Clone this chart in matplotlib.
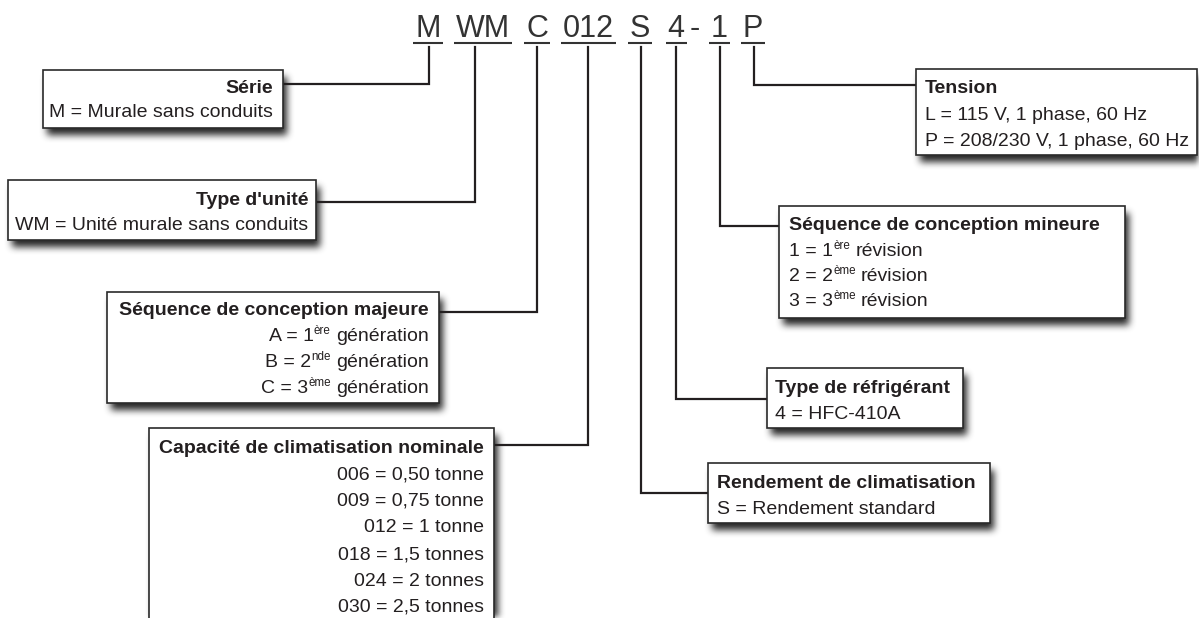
import numpy as np
import matplotlib.pyplot as plt
from matplotlib.patches import Rectangle

plt.rcParams['font.family'] = ['Liberation Sans', 'DejaVu Sans']

W, H = 1199, 618
TXT = '#231f20'
LINE = '#231f20'

# Model number segments (top line)
code_parts = ['M', 'WM', 'C', '012', 'S', '4', '-', '1', 'P']
code_underlined = [True, True, True, True, True, True, False, True, True]

# Box contents: title + lines, each line is a list of (text, is_superscript)
serie_title = 'Série'
serie_lines = [[('M = Murale sans conduits', False)]]

unite_title = "Type d'unité"
unite_lines = [[('WM = Unité murale sans conduits', False)]]

majeure_title = 'Séquence de conception majeure'
majeure_lines = [
    [('A = 1', False), ('ère', True), (' génération', False)],
    [('B = 2', False), ('nde', True), (' génération', False)],
    [('C = 3', False), ('ème', True), (' génération', False)],
]

capacite_title = 'Capacité de climatisation nominale'
capacite_lines = [[(s, False)] for s in [
    '006 = 0,50 tonne', '009 = 0,75 tonne', '012 = 1 tonne',
    '018 = 1,5 tonnes', '024 = 2 tonnes', '030 = 2,5 tonnes']]

tension_title = 'Tension'
tension_lines = [[('L = 115 V, 1 phase, 60 Hz', False)],
                 [('P = 208/230 V, 1 phase, 60 Hz', False)]]

mineure_title = 'Séquence de conception mineure'
mineure_lines = [
    [('1 = 1', False), ('ère', True), (' révision', False)],
    [('2 = 2', False), ('ème', True), (' révision', False)],
    [('3 = 3', False), ('ème', True), (' révision', False)],
]

refrig_title = 'Type de réfrigérant'
refrig_lines = [[('4 = HFC-410A', False)]]

rendement_title = 'Rendement de climatisation'
rendement_lines = [[('S = Rendement standard', False)]]

# ---- layout (pixel coordinates, y downwards) ----
code_cx = [428, 483, 537, 588, 640, 676, 695, 719, 753]
code_base = 37
code_ul_y = 43

# (title, lines, box rect, text x, align, first baseline, line step,
#  connector x under the code, connector y, side of the box)
boxes = [
    (serie_title, serie_lines, (43, 70, 283, 128), 273, 'right', 93, 24, 429, 84, 'r'),
    (unite_title, unite_lines, (8, 180, 316, 240), 308, 'right', 205, 25, 475, 202, 'r'),
    (majeure_title, majeure_lines, (107, 292, 439, 403), 429, 'right', 315, 26, 537, 312, 'r'),
    (capacite_title, capacite_lines, (149, 428, 494, 650), 484, 'right', 453, 26.5, 588, 445, 'r'),
    (tension_title, tension_lines, (916, 69, 1197, 155), 925, 'left', 93, 26.5, 754, 85, 'l'),
    (mineure_title, mineure_lines, (779, 206, 1125, 318), 789, 'left', 230, 25.5, 720, 226, 'l'),
    (refrig_title, refrig_lines, (767, 368, 963, 428), 775, 'left', 393, 26, 676, 399, 'l'),
    (rendement_title, rendement_lines, (708, 463, 990, 523), 717, 'left', 488, 26, 641, 493, 'l'),
]

fig = plt.figure(figsize=(W / 100, H / 100), dpi=100)
ax = fig.add_axes([0, 0, 1, 1])
ax.axis('off')

# drop shadows: blurred mask under the boxes
mask = np.zeros((H, W))
for b in boxes:
    x0, y0, x1, y1 = b[2]
    mask[max(y0 + 7, 0):min(y1 + 7, H), max(x0 + 4, 0):min(x1 + 4, W)] = 1.0


def box_blur(a, r, axis):
    k = np.ones(2 * r + 1) / (2 * r + 1)
    return np.apply_along_axis(lambda v: np.convolve(v, k, mode='same'), axis, a)


for _ in range(3):
    mask = box_blur(mask, 3, 0)
    mask = box_blur(mask, 3, 1)

rgba = np.zeros((H, W, 4))
rgba[..., :3] = 0.15
rgba[..., 3] = np.clip(mask * 1.0, 0, 0.95)
ax.imshow(rgba, extent=(0, W, H, 0), zorder=1, interpolation='bilinear')

ax.set_xlim(0, W)
ax.set_ylim(H, 0)
ax.set_aspect('auto')

renderer = fig.canvas.get_renderer()
PX = 100 / 72


def draw_line(x, y, runs, ha, size, weight='normal'):
    order = runs if ha == 'left' else runs[::-1]
    cx = x
    for txt, sup in order:
        fs = size * 0.6 if sup else size
        dy = -size * PX * 0.36 if sup else 0
        lead = len(txt) - len(txt.lstrip(' '))
        trail = len(txt) - len(txt.rstrip(' '))
        core = txt.strip(' ')
        sp = 0.278 * fs * PX
        if ha == 'left':
            cx += lead * sp
        else:
            cx -= trail * sp
        t = ax.text(cx, y + dy, core, ha=ha, va='baseline', fontsize=fs,
                    weight=weight, color=TXT, zorder=5)
        w = t.get_window_extent(renderer).width
        if ha == 'left':
            cx += w + trail * sp
        else:
            cx -= w + lead * sp


# model number
for part, cx, ul in zip(code_parts, code_cx, code_underlined):
    t = ax.text(cx, code_base, part, ha='center', va='baseline', fontsize=22,
                color='#333333', zorder=5)
    if ul:
        w = t.get_window_extent(renderer).width
        ax.plot([cx - w / 2 - 2, cx + w / 2 + 2], [code_ul_y, code_ul_y],
                color='#333333', lw=1.5, solid_capstyle='butt', zorder=4)

# boxes, connectors and text
for title, lines, (x0, y0, x1, y1), tx, ha, base, step, vx, cy, side in boxes:
    ax.add_patch(Rectangle((x0, y0), x1 - x0, y1 - y0, facecolor='white',
                           edgecolor='#2a2a2a', lw=1.2, zorder=3))
    bx = x1 if side == 'r' else x0
    ax.plot([bx, vx, vx], [cy, cy, 47], color=LINE, lw=1.6,
            solid_joinstyle='miter', zorder=2)
    draw_line(tx, base, [(title, False)], ha, 14, weight='bold')
    for i, runs in enumerate(lines):
        draw_line(tx, round(base + (i + 1) * step), runs, ha, 14)

fig.savefig('out.png', dpi=100)
